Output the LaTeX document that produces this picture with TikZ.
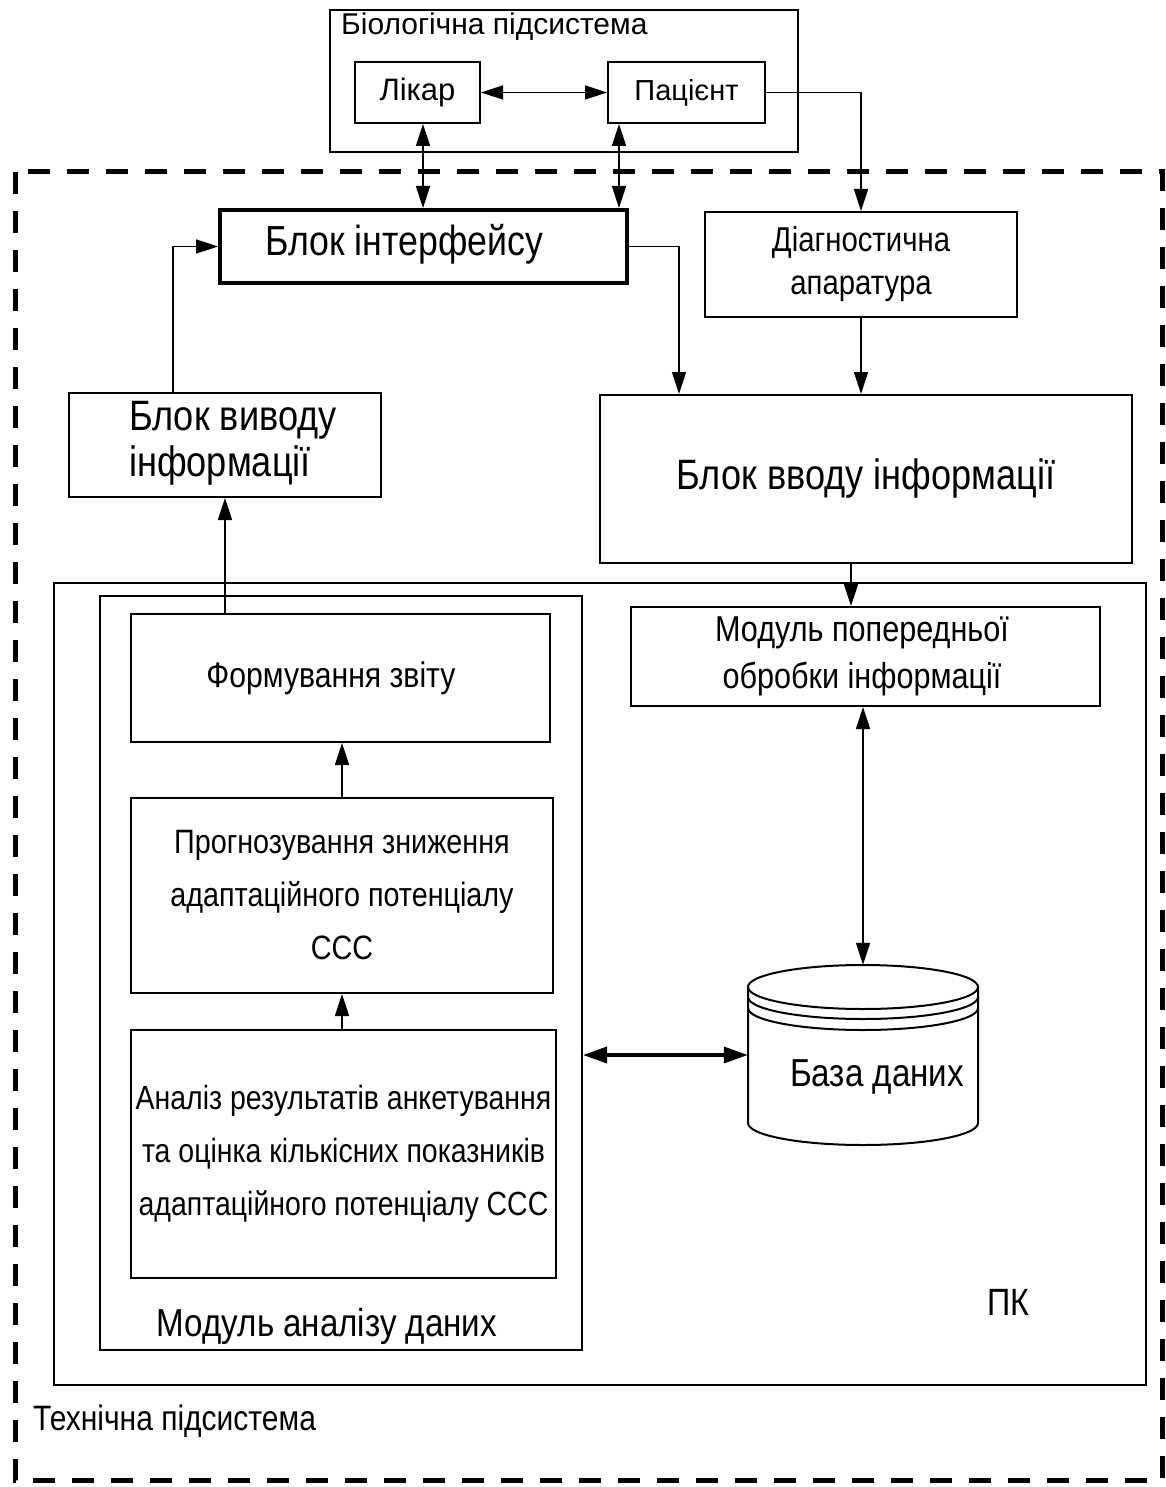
\documentclass[tikz,border=0pt]{standalone}
\usepackage{fontspec}
\setmainfont{Liberation Sans}
\newfontfamily\narrowfont[FakeStretch=0.85]{Liberation Sans}
\usetikzlibrary{arrows.meta,calc}
\newcommand{\fsz}[2]{\fontsize{#1}{#2}\selectfont}
\begin{document}
\begin{tikzpicture}[x=1pt,y=-1pt,
  box/.style={draw,line width=2pt,inner sep=0pt,align=center},
  arr/.style={line width=1.6pt,-{Triangle[length=22pt,width=14pt]}},
  dbl/.style={line width=1.6pt,{Triangle[length=22pt,width=14pt]}-{Triangle[length=22pt,width=14pt]}},
  dblthick/.style={line width=3.5pt,{Triangle[length=24pt,width=16pt]}-{Triangle[length=24pt,width=16pt]}},
  lbl/.style={inner sep=0pt}]
\useasboundingbox (0,0) rectangle (1166,1487);
\fill[white] (0,0) rectangle (1166,1487);

% outer dashed frame of the technical subsystem
\draw[line width=5pt,dash pattern=on 22pt off 17pt] (15,172) rectangle (1162,1480);
\node[lbl,anchor=west,font=\narrowfont\fsz{35.3}{40}] (tlabel) at (33,1421) {Технічна підсистема};

% biological subsystem
\node[box,minimum width=468pt,minimum height=142pt] (bio) at (564,81) {};
\node[lbl,anchor=west,font=\fsz{30}{34}] (biolabel) at (341,27) {Біологічна підсистема};
\node[box,minimum width=125pt,minimum height=61pt,font=\fsz{31}{34}] (likar) at (417.5,92.5) {Лікар};
\node[box,minimum width=157pt,minimum height=61pt,font=\fsz{29}{34}] (pacient) at (686.5,92.5) {Пацієнт};

% upper blocks
\node[box,line width=4pt,minimum width=407pt,minimum height=73pt] (iface) at (423.5,246.5) {};
\node[lbl,font=\narrowfont\fsz{42}{48}] (ifacetext) at (404,244) {Блок інтерфейсу};
\node[box,minimum width=312pt,minimum height=105pt,font=\narrowfont\fsz{34.5}{43}] (diag) at (861,264.5) {Діагностична\\апаратура};
\node[box,minimum width=532pt,minimum height=168pt,font=\narrowfont\fsz{42.5}{48}] (vvod) at (866,479) {Блок вводу інформації};
\node[box,minimum width=312pt,minimum height=104pt] (vyvod) at (225,445) {};
\node[lbl,anchor=west,align=left,font=\narrowfont\fsz{42.5}{46}] (vyvodtext) at (129,443) {Блок виводу\\інформації};

% PC and data analysis module
\node[box,minimum width=1092pt,minimum height=802pt] (pk) at (600,984) {};
\node[lbl,font=\narrowfont\fsz{38}{40}] (pklabel) at (1008,1302) {ПК};
\node[box,minimum width=482pt,minimum height=754pt] (mod) at (341,973) {};
\node[lbl,font=\narrowfont\fsz{39}{44}] (modlabel) at (327,1326) {Модуль аналізу даних};
\node[box,minimum width=419pt,minimum height=128pt] (form) at (340.5,678) {};
\node[lbl,font=\narrowfont\fsz{35.5}{40}] (formtext) at (331,678) {Формування звіту};
\node[box,minimum width=422pt,minimum height=195pt,font=\narrowfont\fsz{33.8}{53}] (prog) at (342,895.5) {Прогнозування зниження\\адаптаційного потенціалу\\ССС};
\node[box,minimum width=425pt,minimum height=248pt,font=\narrowfont\fsz{33.5}{53}] (anal) at (343.5,1154) {Аналіз результатів анкетування\\та оцінка кількісних показників\\адаптаційного потенціалу ССС};
\node[box,minimum width=469pt,minimum height=99pt] (prep) at (865.5,656.5) {};
\node[lbl,align=center,font=\narrowfont\fsz{36}{47}] (preptext) at (862,656) {Модуль попередньої\\обробки інформації};

% database cylinder
\node[inner sep=0pt,minimum width=230pt,minimum height=180pt] (db) at (863,1055) {};
\begin{scope}[line width=2pt]
  \draw (748,987) -- (748,1123) arc[start angle=180,end angle=0,x radius=115,y radius=22] -- (978,987);
  \draw (863,987) ellipse[x radius=115,y radius=22];
  \draw (748,997) arc[start angle=180,end angle=0,x radius=115,y radius=22];
  \draw (748,1008) arc[start angle=180,end angle=0,x radius=115,y radius=22];
\end{scope}
\node[lbl,font=\narrowfont\fsz{39}{42}] (dblabel) at (877,1077) {База даних};

% connectors
\draw[dbl] (likar.east) -- (pacient.west);
\draw[dbl] ([xshift=5.5pt]likar.south) -- ([xshift=5.5pt]likar.south |- iface.north);
\draw[dbl] ([xshift=12pt]pacient.south west) -- ([xshift=12pt]pacient.south west |- iface.north);
\draw[arr] (pacient.east) -| (diag.north);
\draw[arr] (iface.east) -| ([xshift=80pt]vvod.north west);
\draw[arr] (diag.south) -- (diag.south |- vvod.north);
\draw[arr] ([xshift=-52pt]vyvod.north) |- (iface.west);
\draw[arr] (form.north -| vyvod.south) -- (vyvod.south);
\draw[arr] (prog.north) -- (prog.north |- form.south);
\draw[arr] (anal.north -| prog.south) -- (prog.south);
\draw[arr] ([xshift=-15pt]vvod.south) -- ([xshift=-15pt]vvod.south |- prep.north);
\draw[dbl] (prep.south -| db.north) -- (db.north);
\draw[dblthick] (mod.east |- db.west) -- (db.west);
\end{tikzpicture}
\end{document}
